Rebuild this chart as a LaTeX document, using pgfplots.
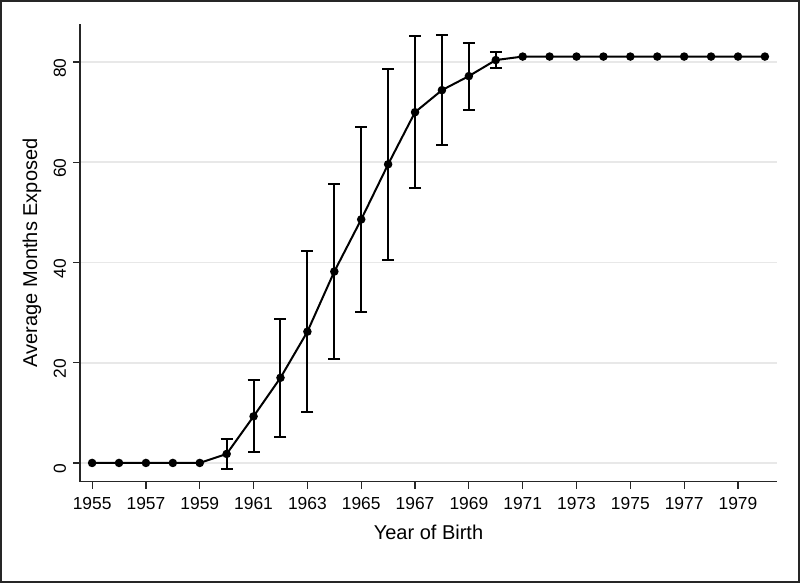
\documentclass[border=0pt]{standalone}
\usepackage{fontspec}
\setmainfont{Liberation Sans}
\usepackage{pgfplots}
\pgfplotsset{compat=1.18}
\definecolor{gridGray}{RGB}{232,232,232}

\pgfplotstableread{
year mean err
1955 0 0
1956 0 0
1957 0 0
1958 0 0
1959 0 0
1960 1.8 3.0
1961 9.3 7.2
1962 17.0 11.8
1963 26.2 16.1
1964 38.2 17.4
1965 48.6 18.5
1966 59.6 19.0
1967 70.0 15.2
1968 74.4 11.0
1969 77.2 6.7
1970 80.4 1.6
1971 81.1 0
1972 81.1 0
1973 81.1 0
1974 81.1 0
1975 81.1 0
1976 81.1 0
1977 81.1 0
1978 81.1 0
1979 81.1 0
1980 81.1 0
}\exposure

\pgfplotstableread{
year mean err
1960 1.8 3.0
1961 9.3 7.2
1962 17.0 11.8
1963 26.2 16.1
1964 38.2 17.4
1965 48.6 18.5
1966 59.6 19.0
1967 70.0 15.2
1968 74.4 11.0
1969 77.2 6.7
1970 80.4 1.6
}\exposureci

\begin{document}
\begin{tikzpicture}
\draw[line width=1pt,black!85] (0.5pt,0.5pt) rectangle (399.5pt,291pt);
\begin{axis}[
 at={(40pt,50.65pt)},anchor=south west,
 scale only axis,width=348.5pt,height=228.85pt,
 xmin=1954.55,xmax=1980.45,ymin=-3.74,ymax=87.6,
 axis lines*=left,axis line style={line width=0.6pt,black!85},
 xtick={1955,1957,...,1979},ytick={0,20,...,80},
 tick align=outside,major tick length=3.5pt,
 major tick style={line width=0.6pt,black!85},
 ymajorgrids,grid style={line width=0.9pt,gridGray},
 /pgf/number format/assume math mode=true,
 /pgf/number format/1000 sep={},
 tick label style={font=\fontsize{8.7}{10}\selectfont},
 xticklabel style={yshift=-1pt},
 yticklabel style={rotate=90,anchor=south,xshift=-3pt},
 xlabel={Year of Birth},ylabel={Average Months Exposed},
 label style={font=\fontsize{10}{12}\selectfont},
 xlabel style={at={(0.5,-0.11)},anchor=center},
 ylabel style={at={(-0.069,0.5)},anchor=center},
]
\addplot[black,line width=1pt,draw=none,mark=none,forget plot,
 error bars/.cd,y dir=both,y explicit,
 error bar style={line width=1pt,black},
 error mark options={line width=1pt,mark size=3pt,black,rotate=90}]
 table[x=year,y=mean,y error=err]{\exposureci};
\addplot[black,line width=1pt,mark=*,mark size=1.6pt,mark options={solid,fill=black}]
 table[x=year,y=mean]{\exposure};
\end{axis}
\end{tikzpicture}
\end{document}
